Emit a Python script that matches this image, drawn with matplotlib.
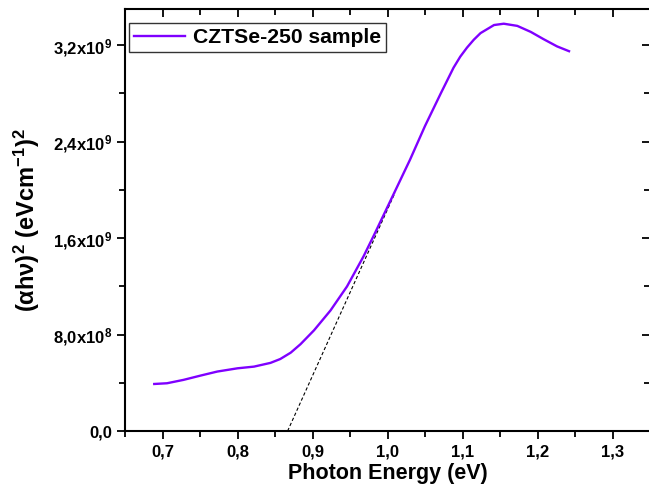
import matplotlib
matplotlib.use("Agg")
import matplotlib.pyplot as plt
from matplotlib.ticker import MultipleLocator, FixedLocator, FixedFormatter

plt.rcParams['font.family'] = ['Liberation Sans', 'DejaVu Sans']
plt.rcParams['font.weight'] = 'bold'
plt.rcParams['mathtext.fontset'] = 'custom'
plt.rcParams['mathtext.rm'] = 'Liberation Sans:bold'
plt.rcParams['mathtext.it'] = 'Liberation Sans:bold'
plt.rcParams['mathtext.bf'] = 'Liberation Sans:bold'
plt.rcParams['mathtext.default'] = 'rm'

# data
energy = [0.689, 0.706, 0.728, 0.751, 0.773, 0.800, 0.822, 0.844, 0.857, 0.871,
          0.884, 0.902, 0.924, 0.946, 0.968, 0.982, 1.011, 1.030, 1.050, 1.071,
          1.088, 1.097, 1.106, 1.115, 1.124, 1.142, 1.155, 1.173, 1.191, 1.208, 1.226, 1.242]
alpha_hv2 = [3.90e8, 3.96e8, 4.24e8, 4.60e8, 4.93e8, 5.20e8, 5.34e8, 5.65e8, 5.97e8, 6.50e8,
             7.20e8, 8.35e8, 1.00e9, 1.199e9, 1.448e9, 1.625e9, 2.002e9, 2.25e9, 2.53e9, 2.80e9,
             3.013e9, 3.105e9, 3.18e9, 3.245e9, 3.30e9, 3.367e9, 3.378e9, 3.36e9, 3.31e9, 3.25e9,
             3.19e9, 3.15e9]

fit_x = [0.8668, 1.010]
fit_y = [0.0, 1.976e9]

xticks = [0.7, 0.8, 0.9, 1.0, 1.1, 1.2, 1.3]
xticklabels = ['0,7', '0,8', '0,9', '1,0', '1,1', '1,2', '1,3']
yticks = [0, 8e8, 1.6e9, 2.4e9, 3.2e9]
yticklabels = ['0,0', r'8,0x10$^8$', r'1,6x10$^9$', r'2,4x10$^9$', r'3,2x10$^9$']

fig = plt.figure(figsize=(6.49, 5.0), dpi=100)
ax = fig.add_axes([0.1926, 0.138, 0.809, 0.844])

ax.plot(fit_x, fit_y, color='black', linestyle=(0, (3, 2)), linewidth=0.8, zorder=2)
ax.plot(energy, alpha_hv2, color='#7f00ff', linewidth=1.7, label='CZTSe-250 sample',
        zorder=3, solid_joinstyle='round')

ax.set_xlim(0.65, 1.35)
ax.set_ylim(0, 3.5e9)
ax.xaxis.set_major_locator(FixedLocator(xticks))
ax.xaxis.set_major_formatter(FixedFormatter(xticklabels))
ax.xaxis.set_minor_locator(MultipleLocator(0.05))
ax.yaxis.set_major_locator(FixedLocator(yticks))
ax.yaxis.set_major_formatter(FixedFormatter(yticklabels))
ax.yaxis.set_minor_locator(MultipleLocator(4e8))

for s in ax.spines.values():
    s.set_linewidth(1.5)

ax.tick_params(which='both', direction='out', width=1.3, top=True, right=True, labelsize=12)
ax.tick_params(which='major', length=6)
ax.tick_params(which='minor', length=4)
# top and right ticks point inward
for t in ax.xaxis.get_major_ticks() + ax.xaxis.get_minor_ticks():
    t.tick2line.set_marker(3)
for t in ax.yaxis.get_major_ticks() + ax.yaxis.get_minor_ticks():
    t.tick2line.set_marker(0)

ax.set_xlabel('Photon Energy (eV)', fontsize=15.5, fontweight='bold', labelpad=3)
ax.set_ylabel(r'(αhν)$^2$ (eVcm$^{-1}$)$^2$', fontsize=17, fontweight='bold', labelpad=8)

leg = ax.legend(loc='upper left', fontsize=15.2, frameon=True, fancybox=False,
                edgecolor='black', handlelength=2.4, handletextpad=0.35, borderpad=0.25,
                bbox_to_anchor=(0.008, 0.967), borderaxespad=0)
leg.get_frame().set_linewidth(1.0)
for txt in leg.get_texts():
    txt.set_fontweight('bold')

fig.savefig('out.png', dpi=100)
